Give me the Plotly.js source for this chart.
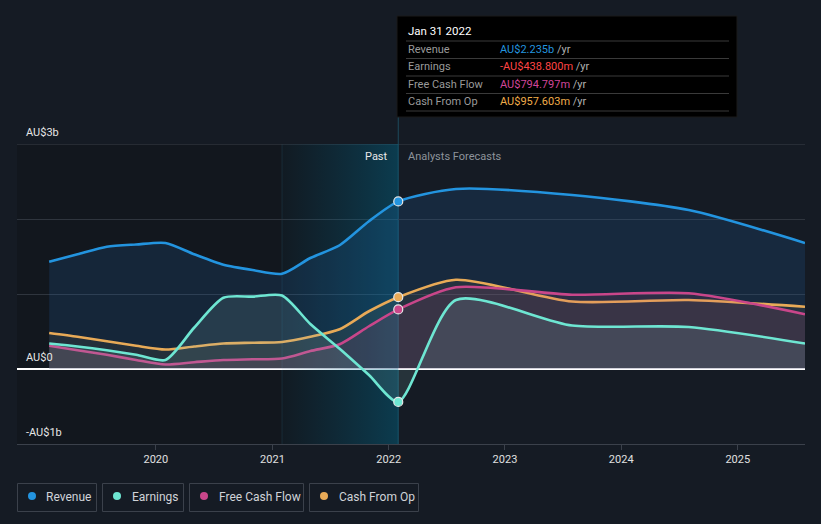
<!DOCTYPE html>
<html>
<head>
<meta charset="utf-8">
<script src="https://cdn.plot.ly/plotly-3.0.1.min.js"></script>
<style>
  html, body { margin: 0; padding: 0; background: #151b24; }
  #chart { width: 821px; height: 524px; }
</style>
</head>
<body>
<div id="chart"></div>
<script>
// ---- data (AU$ billions) ----
const dates = ['2019-01-31','2019-04-30','2019-07-31','2019-10-31','2020-01-31','2020-04-30','2020-07-31','2020-10-31',
               '2021-01-31','2021-04-30','2021-07-31','2021-10-31','2022-01-31',
               '2022-07-31','2023-07-31','2024-07-31','2025-07-31'];
const revenue      = [1.43, 1.53, 1.63, 1.66, 1.68, 1.53, 1.39, 1.32, 1.27, 1.48, 1.65, 1.97, 2.235, 2.40, 2.32, 2.12, 1.68];
const earnings     = [0.34, 0.30, 0.25, 0.19, 0.12, 0.55, 0.95, 0.965, 0.98, 0.60, 0.27, -0.08, -0.4388, 0.92, 0.58, 0.56, 0.34];
const freeCashFlow = [0.31, 0.25, 0.19, 0.12, 0.06, 0.09, 0.12, 0.13, 0.14, 0.24, 0.33, 0.57, 0.7948, 1.09, 0.99, 1.01, 0.73];
const cashFromOp   = [0.48, 0.43, 0.37, 0.31, 0.26, 0.30, 0.34, 0.35, 0.36, 0.43, 0.53, 0.77, 0.9576, 1.19, 0.90, 0.92, 0.83];
const seriesNames = ['Revenue', 'Earnings', 'Free Cash Flow', 'Cash From Op'];
const tooltipDate = 'Jan 31 2022';
const tooltipValues = ['AU$2.235b', '-AU$438.800m', 'AU$794.797m', 'AU$957.603m'];
const pastStart = '2021-01-31';
const pastEnd = '2022-01-31';
const xRange = ['2018-10-22', '2025-07-31'];
const yRange = [-1, 3];
const xTickVals = ['2020-01-01', '2021-01-01', '2022-01-01', '2023-01-01', '2024-01-01', '2025-01-01'];
const xTickText = ['2020', '2021', '2022', '2023', '2024', '2025'];
const yTickVals = [-1, 1, 2, 3];
const yLabels = [{v: 3, t: 'AU$3b'}, {v: 0, t: 'AU$0'}, {v: -1, t: '-AU$1b'}];

const colors = {
  'Revenue': '#2394df',
  'Earnings': '#6ee6d2',
  'Free Cash Flow': '#c9468a',
  'Cash From Op': '#e8aa57'
};
const fills = {
  'Revenue': 'rgba(35,120,200,0.16)',
  'Earnings': 'rgba(140,200,195,0.14)',
  'Free Cash Flow': 'rgba(205,70,120,0.12)',
  'Cash From Op': 'rgba(232,170,87,0.07)'
};
const valueColors = ['#2394df', '#ff4545', '#d1469a', '#f0ac4a'];

// ---- pixel helpers (plot area: x 17..805, y 144..444) ----
const PL = 17, PR = 805, PT = 144, PB = 444;
const px = x => (x - PL) / (PR - PL);
const py = y => (PB - y) / (PB - PT);

const seriesData = {
  'Revenue': revenue, 'Earnings': earnings,
  'Free Cash Flow': freeCashFlow, 'Cash From Op': cashFromOp
};

const traces = [];
// gradient highlight band for the last year of the past
traces.push({
  type: 'scatter', mode: 'lines',
  x: [pastStart, pastEnd, pastEnd, pastStart, pastStart],
  y: [yRange[0], yRange[0], yRange[1], yRange[1], yRange[0]],
  line: {width: 0}, fill: 'toself',
  fillgradient: {type: 'horizontal', colorscale: [[0, 'rgba(0,110,150,0.04)'], [1, 'rgba(0,125,165,0.36)']]},
  hoverinfo: 'skip', showlegend: false
});
['Revenue', 'Cash From Op', 'Free Cash Flow', 'Earnings'].forEach(name => {
  traces.push({
    type: 'scatter', mode: 'lines', x: dates, y: seriesData[name],
    line: {color: colors[name], width: 2.6, shape: 'spline', smoothing: 0.7},
    fill: 'tozeroy', fillcolor: fills[name], hoverinfo: 'skip', showlegend: false
  });
});
// markers at the tooltip date
const idx = dates.indexOf(pastEnd);
traces.push({
  type: 'scatter', mode: 'markers',
  x: seriesNames.map(() => dates[idx]),
  y: seriesNames.map(n => seriesData[n][idx]),
  marker: {size: 9, color: seriesNames.map(n => colors[n]), line: {color: '#e8e8e8', width: 1.2}},
  hoverinfo: 'skip', showlegend: false
});

const shapes = [];
// darker past background
shapes.push({type: 'rect', xref: 'x', yref: 'paper', x0: xRange[0], x1: pastEnd, y0: 0, y1: 1,
  fillcolor: 'rgba(0,0,0,0.14)', line: {width: 0}, layer: 'below'});
shapes.push({type: 'line', xref: 'x', yref: 'paper', x0: pastStart, x1: pastStart, y0: 0, y1: 1,
  line: {color: 'rgba(40,90,110,0.3)', width: 1}, layer: 'below'});
// top gridline at 3b
shapes.push({type: 'line', xref: 'paper', yref: 'y', x0: 0, x1: 1, y0: yTickVals[3], y1: yTickVals[3],
  line: {color: '#3a4049', width: 1}, layer: 'below'});
// hover line
shapes.push({type: 'line', xref: 'x', yref: 'paper', x0: pastEnd, x1: pastEnd, y0: 0, y1: py(16),
  line: {color: 'rgba(30,80,100,0.9)', width: 1}, layer: 'below'});
// tooltip box
shapes.push({type: 'rect', xref: 'paper', yref: 'paper', x0: px(397), x1: px(737), y0: py(117), y1: py(16),
  fillcolor: '#000000', line: {color: '#1a1a1a', width: 1}, layer: 'above'});
[41, 58.5, 76, 93.5, 111].forEach(yy => {
  shapes.push({type: 'line', xref: 'paper', yref: 'paper', x0: px(406), x1: px(729), y0: py(yy), y1: py(yy),
    line: {color: '#3a3a3a', width: 1}, layer: 'above'});
});
// legend boxes
const legendBoxes = [[17, 97], [102, 184], [189, 304], [309, 419]];
legendBoxes.forEach((b, i) => {
  shapes.push({type: 'rect', xref: 'paper', yref: 'paper', x0: px(b[0] + 0.5), x1: px(b[1] - 0.5), y0: py(511.5), y1: py(483.5),
    fillcolor: 'rgba(0,0,0,0)', line: {color: '#3b414b', width: 1}});
  shapes.push({type: 'circle', xref: 'paper', yref: 'paper', x0: px(b[0] + 11), x1: px(b[0] + 19), y0: py(500), y1: py(492),
    fillcolor: colors[seriesNames[i]], line: {width: 0}});
});

const annotations = [];
yLabels.forEach(l => {
  annotations.push({xref: 'paper', yref: 'y', x: px(24), y: l.v, yshift: 12, xanchor: 'left', yanchor: 'middle',
    text: l.t, showarrow: false, font: {family: 'Roboto', size: 11, color: '#e6e6e6'}});
});
annotations.push({xref: 'x', yref: 'paper', x: pastEnd, y: py(156), xshift: -8, xanchor: 'right', yanchor: 'middle',
  text: 'Past', showarrow: false, font: {family: 'Roboto', size: 11, color: '#e8e8e8'}});
annotations.push({xref: 'x', yref: 'paper', x: pastEnd, y: py(156), xshift: 8, xanchor: 'left', yanchor: 'middle',
  text: 'Analysts Forecasts', showarrow: false, font: {family: 'Roboto', size: 11, color: '#8d939b'}});
// tooltip text
annotations.push({xref: 'paper', yref: 'paper', x: px(406), y: py(31), xanchor: 'left', yanchor: 'middle',
  text: tooltipDate, showarrow: false, font: {family: 'Roboto', size: 11.5, color: '#ffffff'}});
const rowY = [49.5, 66.8, 84, 101.5];
seriesNames.forEach((n, i) => {
  annotations.push({xref: 'paper', yref: 'paper', x: px(406), y: py(rowY[i]), xanchor: 'left', yanchor: 'middle',
    text: n, showarrow: false, font: {family: 'Roboto', size: 11, color: '#9a9a9a'}});
  annotations.push({xref: 'paper', yref: 'paper', x: px(498), y: py(rowY[i]), xanchor: 'left', yanchor: 'middle',
    text: '<span style="color:' + valueColors[i] + '">' + tooltipValues[i] + '</span><span style="color:#b0b0b0"> /yr</span>',
    showarrow: false, font: {family: 'Roboto', size: 11, color: '#b0b0b0'}});
});
// legend text
const legendTextX = [44, 130, 217, 337];
seriesNames.forEach((n, i) => {
  annotations.push({xref: 'paper', yref: 'paper', x: px(legendTextX[i]), y: py(496.5), xanchor: 'left', yanchor: 'middle',
    text: n, showarrow: false, font: {family: 'Roboto', size: 12, color: '#d0d3d8'}});
});

const layout = {
  width: 821, height: 524,
  margin: {l: PL, r: 821 - PR, t: PT, b: 524 - PB},
  paper_bgcolor: '#151b24', plot_bgcolor: '#151b24',
  showlegend: false,
  font: {family: 'Roboto', color: '#d0d0d0'},
  xaxis: {
    type: 'date', range: xRange, showgrid: false, zeroline: false,
    showline: true, linecolor: '#3b414b', linewidth: 1,
    ticks: 'outside', ticklen: 5, tickcolor: '#3b414b',
    tickmode: 'array', tickvals: xTickVals, ticktext: xTickText,
    tickfont: {family: 'Roboto', size: 11, color: '#e0e0e0'}
  },
  yaxis: {
    range: yRange, tickvals: yTickVals, showticklabels: false,
    showgrid: true, gridcolor: '#2f353e', gridwidth: 1,
    zeroline: true, zerolinecolor: '#ffffff', zerolinewidth: 1.5,
    fixedrange: true
  },
  shapes: shapes,
  annotations: annotations
};

Plotly.newPlot('chart', traces, layout, {displayModeBar: false, staticPlot: true});
</script>
</body>
</html>
